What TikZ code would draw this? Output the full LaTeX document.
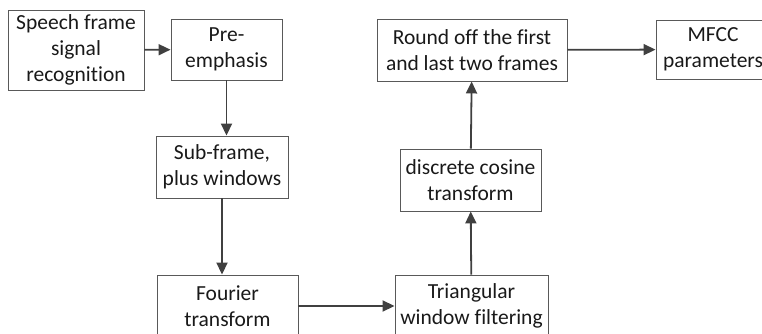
\documentclass[tikz,border=0pt]{standalone}
\usepackage{fontspec}
\setmainfont[Ligatures={NoCommon}]{Carlito}
\usetikzlibrary{arrows.meta}
\begin{document}
\begin{tikzpicture}[x=1pt,y=-1pt,
  blk/.style={draw=black!65, line width=0.9pt, align=center, inner sep=0pt,
    font=\fontsize{21.5}{26}\selectfont, text=black!90},
  arr/.style={draw=black!75, line width=1.8pt, -{Triangle[length=12pt,width=11pt]}}]
\clip (0,0) rectangle (762,334);
\node[blk, minimum width=136pt, minimum height=80pt] (s1) at (76,50) {Speech frame\\signal\\recognition};
\node[blk, minimum width=111pt, minimum height=61pt] (s2) at (226.5,49.5) {Pre-\\emphasis};
\node[blk, minimum width=132pt, minimum height=62pt] (s3) at (222,167) {Sub-frame,\\plus windows};
\node[blk, minimum width=141pt, minimum height=62pt] (s4) at (227.5,306) {Fourier\\transform};
\node[blk, minimum width=153pt, minimum height=62pt] (s5) at (471.5,306) {Triangular\\window filtering};
\node[blk, minimum width=141pt, minimum height=62pt] (s6) at (470.5,180) {discrete cosine\\transform};
\node[blk, minimum width=190pt, minimum height=62pt] (s7) at (472,50) {Round off the first\\and last two frames};
\node[blk, minimum width=114pt, minimum height=59pt] (s8) at (713,49.5) {MFCC\\parameters};

\path[arr] (s1) -- (s2);
\path[arr] (s2.south) -- (s2.south |- s3.north);
\path[arr] (s3.south) -- (s3.south |- s4.north);
\path[arr] (s4) -- (s5);
\path[arr] (s5) -- (s6);
\path[arr] (s6) -- (s7);
\path[arr] (s7) -- (s8);
\end{tikzpicture}
\end{document}
